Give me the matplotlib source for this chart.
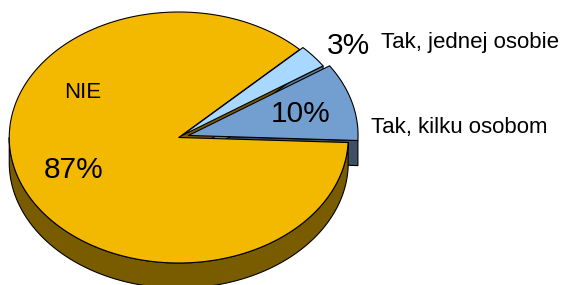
import numpy as np
import matplotlib
matplotlib.use("Agg")
import matplotlib.pyplot as plt
from matplotlib.patches import Polygon

# survey answers (percent), drawn counterclockwise from the start angle
categories = ["Tak, kilku osobom", "Tak, jednej osobie", "NIE"]
values = [10, 3, 87]
explode = [0.06, 0.025, 0.0]

top_colors = ["#739FD0", "#A8D8FF", "#F3B900"]
side_colors = ["#3E4F66", "#5E7C96", "#7A5C00"]

start_angle = -2.3   # degrees
depth = 0.2          # height of the disc, in radius units (vertical)

# pixel geometry of the projected disc
CX, CY, RX, RY = 178.75, 137.5, 169.5, 125.5
W, H = 561, 285


def px(x, y):
    """pixel position -> data position (u, v)"""
    return (x - CX) / RX, (CY - y) / RY


fig = plt.figure(figsize=(W / 100, H / 100), dpi=100)
ax = fig.add_axes([0, 0, 1, 1])
ax.set_xlim(px(0, 0)[0], px(W, 0)[0])
ax.set_ylim(px(0, H)[1], px(0, 0)[1])
ax.axis("off")

fracs = np.array(values, dtype=float) / sum(values)
bounds = start_angle + 360 * np.concatenate([[0], np.cumsum(fracs)])


def arc(t1, t2, n=200):
    t = np.radians(np.linspace(t1, t2, n))
    return np.column_stack([np.cos(t), np.sin(t)])


slices = []
for i in range(len(values)):
    t1, t2 = bounds[i], bounds[i + 1]
    mid = np.radians((t1 + t2) / 2)
    off = np.array([np.cos(mid), np.sin(mid)]) * explode[i]
    slices.append((t1, t2, off))

edge = dict(edgecolor="black", linewidth=0.8, joinstyle="round")
down = np.array([0, depth])


def cut_face(angle, off, color, z):
    a = np.radians(angle)
    p0 = off
    p1 = off + np.array([np.cos(a), np.sin(a)])
    pts = np.array([p0, p1, p1 - down, p0 - down])
    ax.add_patch(Polygon(pts, closed=True, facecolor=color, zorder=z, **edge))


def top_face(t1, t2, off, color, z):
    pts = np.vstack([[0, 0], arc(t1, t2)]) + off
    ax.add_patch(Polygon(pts, closed=True, facecolor=color, zorder=z, **edge))


def outer_wall(t1, t2, off, color, z):
    # only the front half (180..360 deg) of the rim is visible
    lo, hi = max(t1, 180), min(t2, 360)
    if hi <= lo:
        return
    rim = arc(lo, hi) + off
    pts = np.vstack([rim, rim[::-1] - down])
    ax.add_patch(Polygon(pts, closed=True, facecolor=color, zorder=z, **edge))


(k1, k2, koff), (j1, j2, joff), (n1, n2, noff) = slices

# back to front
cut_face(k1, koff, side_colors[0], 1)
cut_face(j1, joff, side_colors[1], 2)
cut_face(n1, noff, side_colors[2], 2)
outer_wall(n1, n2, noff, side_colors[2], 3)
top_face(n1, n2, noff, top_colors[2], 4)
top_face(j1, j2, joff, top_colors[1], 6)
top_face(k1, k2, koff, top_colors[0], 7)

font = "Liberation Sans"
pct = [f"{v}%" for v in values]

# percentage labels
ax.text(*px(271, 122), pct[0], fontsize=21.5, family=font, ha="left", va="baseline", zorder=10)
ax.text(*px(327, 54), pct[1], fontsize=21.5, family=font, ha="left", va="baseline", zorder=10)
ax.text(*px(44, 178), pct[2], fontsize=21.5, family=font, ha="left", va="baseline", zorder=10)

# category labels
ax.text(*px(371, 133), categories[0], fontsize=16, family=font, ha="left", va="baseline", zorder=10)
ax.text(*px(381, 48), categories[1], fontsize=16, family=font, ha="left", va="baseline", zorder=10)
ax.text(*px(64, 98), categories[2], fontsize=16, family=font, ha="left", va="baseline", zorder=10)

fig.savefig("out.png", dpi=100)
